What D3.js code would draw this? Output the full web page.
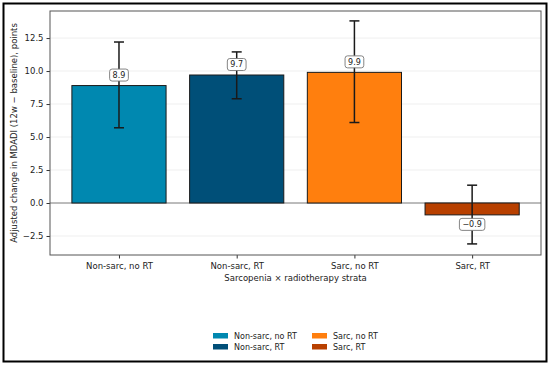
<!DOCTYPE html>
<html>
<head>
<meta charset="utf-8">
<script src="https://cdn.jsdelivr.net/npm/d3@7"></script>
<style>
  body { margin: 0; background: #fff; }
  svg text { font-family: "DejaVu Sans", sans-serif; }
</style>
</head>
<body>
<div id="plot"></div>
<script>
//Data;
const groups = ["Non-sarc, no RT", "Non-sarc, RT", "Sarc, no RT", "Sarc, RT"];
const means = [8.9, 9.7, 9.9, -0.9];
const ciLow = [5.7, 7.9, 6.1, -3.1];
const ciHigh = [12.2, 11.45, 13.8, 1.35];
const colors = ["#0088b0", "#004f78", "#ff7f0e", "#b84000"];
const yTicks = [-2.5, 0, 2.5, 5, 7.5, 10, 12.5];

//Size Vars;
const w = 550, h = 365;
const m = {left: 50, right: 9, top: 11, bottom: 110};

const svg = d3.select("#plot")
  .append("svg")
    .attr("width", w)
    .attr("height", h);

//Outer border;
svg.append("rect")
  .attr("x", 3.5).attr("y", 3.5)
  .attr("width", w - 7).attr("height", h - 7)
  .attr("fill", "none")
  .attr("stroke", "#000")
  .attr("stroke-width", 2);

//Scales;
const xScale = d3.scaleLinear()
  .domain([-0.586, 3.585])
  .range([m.left, w - m.right]);

const yScale = d3.scaleLinear()
  .domain([-3.94, 14.55])
  .range([h - m.bottom, m.top]);

const barW = xScale(0.8) - xScale(0);

//Grid;
svg.append("g")
  .selectAll("line")
  .data(yTicks)
  .enter()
  .append("line")
    .attr("x1", m.left).attr("x2", w - m.right)
    .attr("y1", d => yScale(d)).attr("y2", d => yScale(d))
    .attr("stroke", "#ebebeb")
    .attr("stroke-width", 0.8);

//Zero line;
svg.append("line")
  .attr("x1", m.left).attr("x2", w - m.right)
  .attr("y1", yScale(0)).attr("y2", yScale(0))
  .attr("stroke", "#808080")
  .attr("stroke-width", 1);

//Bars;
svg.append("g")
  .selectAll("rect")
  .data(means)
  .enter()
  .append("rect")
    .attr("x", (d, i) => xScale(i) - barW / 2)
    .attr("y", d => yScale(Math.max(0, d)))
    .attr("width", barW)
    .attr("height", d => Math.abs(yScale(d) - yScale(0)))
    .attr("fill", (d, i) => colors[i])
    .attr("stroke", "#1a1a1a")
    .attr("stroke-width", 1);

//Error bars;
const err = svg.append("g").attr("stroke", "#1a1a1a").attr("stroke-width", 1.5);
groups.forEach(function(g, i) {
  const x = xScale(i);
  err.append("line")
    .attr("x1", x).attr("x2", x)
    .attr("y1", yScale(ciLow[i])).attr("y2", yScale(ciHigh[i]));
  [ciLow[i], ciHigh[i]].forEach(function(v) {
    err.append("line")
      .attr("x1", x - 5).attr("x2", x + 5)
      .attr("y1", yScale(v)).attr("y2", yScale(v));
  });
});

//Value labels;
groups.forEach(function(g, i) {
  const v = means[i];
  const cy = v >= 0 ? yScale(v) - 10.5 : yScale(v) + 9.5;
  const txt = v < 0 ? "\u2212" + Math.abs(v).toFixed(1) : v.toFixed(1);
  const lab = svg.append("g").attr("transform", "translate(" + xScale(i) + "," + cy + ")");
  const t = lab.append("text")
    .attr("text-anchor", "middle")
    .attr("dy", "0.35em")
    .attr("font-size", 8)
    .attr("fill", "#222")
    .text(txt);
  const bb = t.node().getBBox();
  lab.insert("rect", "text")
    .attr("x", bb.x - 3).attr("y", -6)
    .attr("width", bb.width + 6).attr("height", 12)
    .attr("rx", 2.5)
    .attr("fill", "#fff")
    .attr("stroke", "#777")
    .attr("stroke-width", 0.9);
});

//Axes;
const yAxis = d3.axisLeft(yScale)
  .tickValues(yTicks)
  .tickFormat(d => (d < 0 ? "\u2212" : "") + Math.abs(d).toFixed(1))
  .tickSize(3.5)
  .tickSizeOuter(0);

const xAxis = d3.axisBottom(xScale)
  .tickValues([0, 1, 2, 3])
  .tickFormat(d => groups[d])
  .tickSize(3.5)
  .tickSizeOuter(0);

const gy = svg.append("g")
  .attr("transform", "translate(" + m.left + ",0)")
  .call(yAxis);
const gx = svg.append("g")
  .attr("transform", "translate(0," + (h - m.bottom) + ")")
  .call(xAxis);

[gx, gy].forEach(function(g) {
  g.select(".domain").remove();
  g.selectAll("text").attr("font-size", 8.5).attr("fill", "#222")
    .attr("font-family", "DejaVu Sans, sans-serif");
  g.selectAll("line").attr("stroke", "#333");
});
gx.selectAll("text").attr("dy", "0.9em");

//Frame;
svg.append("rect")
  .attr("x", m.left).attr("y", m.top)
  .attr("width", w - m.right - m.left)
  .attr("height", h - m.bottom - m.top)
  .attr("fill", "none")
  .attr("stroke", "#555")
  .attr("stroke-width", 1);

//Axis labels;
svg.append("text")
  .attr("x", (m.left + w - m.right) / 2)
  .attr("y", 281)
  .attr("text-anchor", "middle")
  .attr("font-size", 8.5)
  .attr("fill", "#222")
  .text("Sarcopenia \u00d7 radiotherapy strata");

svg.append("text")
  .attr("transform", "translate(17," + ((m.top + h - m.bottom) / 2) + ") rotate(-90)")
  .attr("text-anchor", "middle")
  .attr("font-size", 8.5)
  .attr("fill", "#222")
  .text("Adjusted change in MDADI (12w \u2212 baseline), points");

//Legend;
const legend = svg.append("g");
groups.forEach(function(g, i) {
  const col = Math.floor(i / 2), row = i % 2;
  const lx = 213 + col * 99, ly = 333 + row * 11;
  legend.append("rect")
    .attr("x", lx).attr("y", ly)
    .attr("width", 15).attr("height", 5.5)
    .attr("fill", colors[i]);
  legend.append("text")
    .attr("x", lx + 21).attr("y", ly + 3)
    .attr("dy", "0.35em")
    .attr("font-size", 8)
    .attr("fill", "#222")
    .text(g);
});
</script>
</body>
</html>
